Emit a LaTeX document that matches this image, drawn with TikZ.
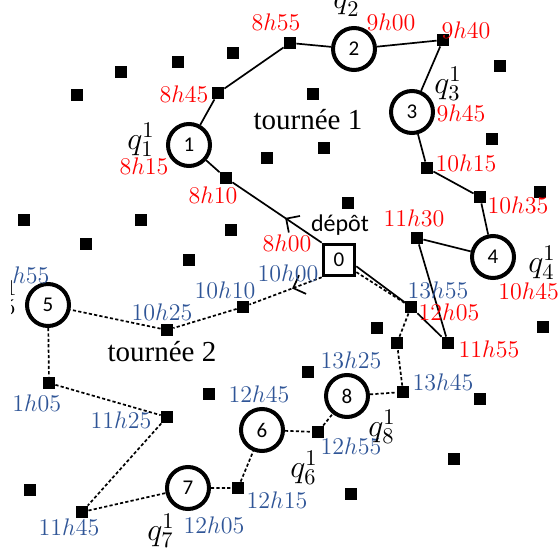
\RequirePackage{fix-cm}
\documentclass[tikz,border=0pt]{standalone}
\usepackage{fontspec}
\usetikzlibrary{shapes,arrows.meta,positioning,calc,decorations.markings}
\newfontfamily\calib{Carlito}
\newfontfamily\timesf{Liberation Serif}
\definecolor{hblue}{RGB}{47,85,151}

\begin{document}
\begin{tikzpicture}[
    x=0.5pt, y=-0.5pt,
    cust/.style={rectangle, fill=black, minimum size=6pt, inner sep=0pt},
    client/.style={circle, draw, line width=2pt, minimum size=21pt, inner sep=0pt, font=\calib\fontsize{10.5}{12}\selectfont},
    depotbox/.style={rectangle, draw, line width=1.8pt, minimum size=15.5pt, inner sep=0pt, font=\calib\fontsize{10.5}{12}\selectfont},
    tred/.style={text=red, inner sep=0pt, font=\fontsize{12}{14}\selectfont},
    tblue/.style={text=hblue, inner sep=0pt, font=\fontsize{12}{14}\selectfont},
    qlab/.style={inner sep=0pt, font=\fontsize{16}{18}\selectfont},
    route1/.style={line width=0.85pt},
    route2/.style={line width=0.85pt, dash pattern=on 1.6pt off 1.1pt},
    midarrow/.style={postaction={decorate}, decoration={markings, mark=at position #1 with {\arrow{Straight Barb[length=5pt,width=10pt]}}}}
]
\useasboundingbox (0,0) rectangle (560,550);

% clients not visited
\foreach \x/\y [count=\i] in {77/95, 121/72, 178/62, 233/53, 313/94, 267/158, 324/148, 500/66,
    492/139, 540/192, 348/203, 24/220, 141/220, 86/244, 231/230, 189/260, 543/327, 377/328,
    308/372, 209/394, 480/399, 454/459, 351/494, 30/490}
    \node[cust] (d\i) at (\x,\y) {};

% depot and served clients
\node[depotbox] (dep) at (339,260) {0};
\node[font=\calib\fontsize{12}{14}\selectfont, inner sep=0pt] (deplab) at (340,225) {dépôt};
\node[client] (n1) at (189,145) {1};
\node[client] (n2) at (354,49) {2};
\node[client] (n3) at (412,112) {3};
\node[client] (n4) at (493,257) {4};
\node[client] (n5) at (48,305) {5};
\node[client] (n6) at (262,430) {6};
\node[client] (n7) at (188,488) {7};
\node[client] (n8) at (347,396) {8};

% waypoints of tournee 1
\node[cust] (s810) at (226,178) {};
\node[cust] (s845) at (218,93) {};
\node[cust] (s855) at (290,43) {};
\node[cust] (s940) at (443,40) {};
\node[cust] (s1015) at (427,168) {};
\node[cust] (s1035) at (480,197) {};
\node[cust] (s1130) at (417,238) {};
\node[cust] (s1155) at (448,343) {};
\node[cust] (s1205) at (411,307) {};

% waypoints of tournee 2
\node[cust] (s1010) at (243,307) {};
\node[cust] (s1025) at (167,330) {};
\node[cust] (s1105) at (49,383) {};
\node[cust] (s1125) at (167,417) {};
\node[cust] (s1145) at (82,512) {};
\node[cust] (s1215) at (238,488) {};
\node[cust] (s1255) at (318,432) {};
\node[cust] (s1345) at (403,392) {};
\node[cust] (s1350) at (397,343) {};

% tournee 1
\draw[route1, midarrow=0.41] (dep.north west) -- (s810);
\draw[route1] (s810) -- (n1) -- (s845) -- (s855) -- (n2) -- (s940) -- (n3) -- (s1015) -- (s1035)
    -- (n4) -- (s1130) -- (s1155) -- (s1205) -- (dep.-20);

% tournee 2
\draw[route2, midarrow=0.41] (dep.south west) -- (s1010);
\draw[route2] (s1010) -- (s1025) -- (n5) -- (s1105) -- (s1125) -- (s1145) -- (n7) -- (s1215)
    -- (n6) -- (s1255) -- (n8) -- (s1345) -- (s1350) -- (s1205) -- (dep.-35);

% times, tournee 1
\node[tred] (t800) at (287,243) {$8h00$};
\node[tred] (t810) at (213,195) {$8h10$};
\node[tred] (t815) at (144,166) {$8h15$};
\node[tred] (t845) at (184,94) {$8h45$};
\node[tred] (t855) at (276,22) {$8h55$};
\node[tred] (t900) at (391,22) {$9h00$};
\node[tred] (t940) at (466,30) {$9h40$};
\node[tred] (t945) at (461,113) {$9h45$};
\node[tred] (t1015) at (466,163) {$10h15$};
\node[tred] (t1035) at (518,205) {$10h35$};
\node[tred, anchor=west] (t1045) at (498,291) {$10h45$};
\node[tred] (t1130) at (414,218) {$11h30$};
\node[tred] (t1155) at (489,349) {$11h55$};
\node[tred] (t1205) at (449,312) {$12h05$};

% times, tournee 2
\node[tblue] (u1000) at (288,273) {$10h00$};
\node[tblue] (u1010) at (225,290) {$10h10$};
\node[tblue] (u1025) at (162,312) {$10h25$};
\node[tblue, anchor=west] (u1055) at (12,275) {$h55$};
\node[tblue, anchor=west] (u1105) at (12,403) {$1h05$};
\node[tblue] (u1125) at (121,420) {$11h25$};
\node[tblue] (u1145) at (69,527) {$11h45$};
\node[tblue] (u1205) at (214,525) {$12h05$};
\node[tblue] (u1215) at (277,500) {$12h15$};
\node[tblue] (u1245) at (259,394) {$12h45$};
\node[tblue] (u1255) at (351,446) {$12h55$};
\node[tblue] (u1325) at (351,360) {$13h25$};
\node[tblue] (u1345) at (443,382) {$13h45$};
\node[tblue] (u1355) at (438,290) {$13h55$};

% quantities
\node[qlab] (q1) at (141,140) {$q_1^1$};
\node[qlab, anchor=south] (q2) at (347,17) {$q_2^1$};
\node[qlab] (q3) at (448,84) {$q_3^1$};
\node[qlab, anchor=west] (q4) at (528,263) {$q_4^1$};
\begin{scope}
  \clip (11,0) rectangle (560,550);
  \node[qlab, anchor=east] (q5) at (18,298) {$q_5^1$};
\end{scope}
\node[qlab] (q6) at (304,468) {$q_6^1$};
\node[qlab] (q7) at (161,531) {$q_7^1$};
\node[qlab] (q8) at (382,427) {$q_8^1$};

% route names
\node[font=\timesf\fontsize{14.5}{16}\selectfont, inner sep=0pt] (tour1) at (308,120) {tournée 1};
\node[font=\timesf\fontsize{14.5}{16}\selectfont, inner sep=0pt] (tour2) at (162,352) {tournée 2};
\end{tikzpicture}
\end{document}
